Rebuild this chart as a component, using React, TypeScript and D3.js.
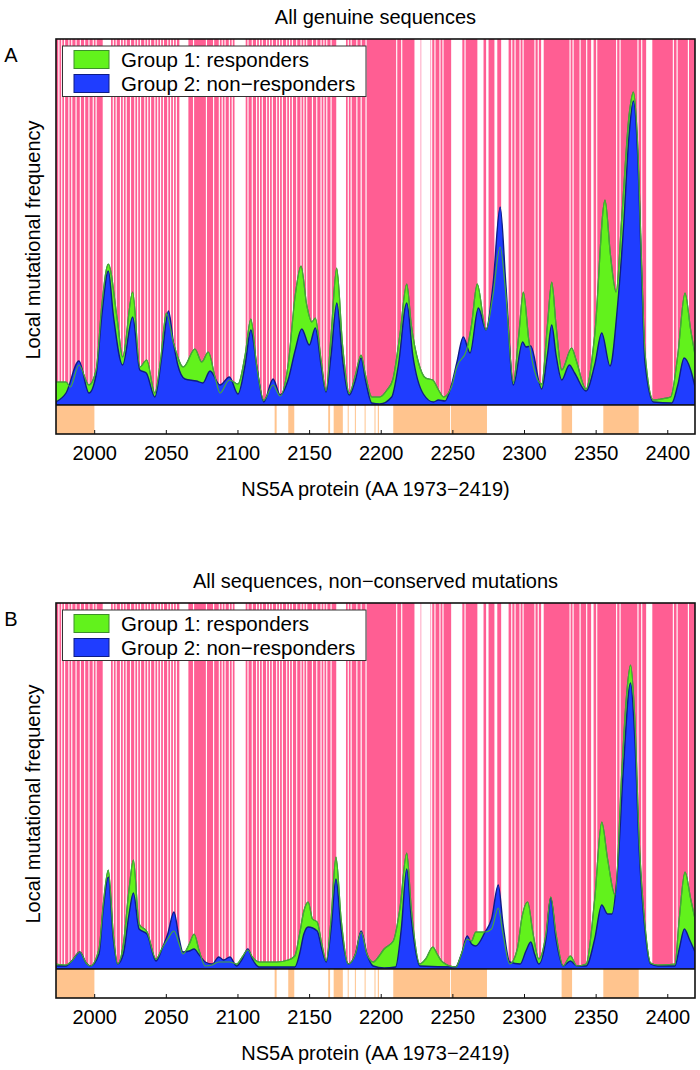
import React from "react";
import * as d3 from "d3";

// ---------- data ----------
const xDomain: [number, number] = [1973, 2419];
const xTicks = [2000, 2050, 2100, 2150, 2200, 2250, 2300, 2350, 2400];
const panelTitles = ["All genuine sequences", "All sequences, non\u2212conserved mutations"];
const panelLetters = ["A", "B"];
const legendLabels = ["Group 1: responders", "Group 2: non\u2212responders"];
const xLabel = "NS5A protein (AA 1973\u22122419)";
const yLabel = "Local mutational frequency";

// conserved positions (white stripes), AA ranges
const whiteStripes: [number, number][] = [
  [1975, 1975], [1977, 1977], [1979, 1979], [1982, 1982], [1984, 1984], [1987, 1987], [1990, 1990],
  [1993, 1993], [1996, 1996], [1999, 1999], [2001, 2001], [2006, 2011], [2013, 2013], [2015, 2015],
  [2018, 2018], [2020, 2020], [2022, 2022], [2025, 2025], [2028, 2028], [2030, 2030], [2032, 2032],
  [2035, 2035], [2037, 2037], [2039, 2039], [2042, 2042], [2044, 2044], [2046, 2046], [2048, 2048],
  [2051, 2051], [2053, 2053], [2055, 2055], [2057, 2057], [2059.5, 2065], [2069, 2069], [2078, 2078],
  [2083, 2083], [2087, 2087], [2089, 2089], [2091, 2091], [2094, 2094], [2096, 2096], [2098, 2105],
  [2107, 2107], [2110, 2110], [2113, 2113], [2115, 2115], [2117, 2117], [2120, 2120], [2122, 2122],
  [2124, 2124], [2127, 2127], [2129, 2129], [2131, 2131], [2134, 2134], [2136, 2136], [2138, 2138],
  [2141, 2141], [2144, 2144], [2146, 2146], [2148, 2148], [2152, 2152], [2155, 2155], [2158, 2158],
  [2160, 2160], [2162, 2162], [2165, 2165], [2169, 2175], [2177, 2177], [2179, 2179], [2183, 2183],
  [2186, 2186], [2189.4, 2189.4], [2210.8, 2210.8], [2214.3, 2214.3], [2223.6, 2227.1], [2228.3, 2234],
  [2235.2, 2235.2], [2237.5, 2237.5], [2241, 2241], [2243.1, 2243.1], [2249.2, 2256.2], [2258.5, 2258.5],
  [2267.5, 2271], [2273.6, 2274.5], [2279.4, 2280.6], [2284.1, 2288.5], [2291.1, 2291.1], [2293.4, 2293.4],
  [2296.9, 2296.9], [2299, 2299], [2307.3, 2307.3], [2309.6, 2309.6], [2312, 2313], [2331.8, 2331.8],
  [2333.9, 2333.9], [2338.8, 2338.8], [2343.4, 2343.4], [2346.9, 2347.8], [2350.4, 2350.4],
  [2364.3, 2364.3], [2366.7, 2366.7], [2379.2, 2379.2], [2381.8, 2381.8], [2385.3, 2388.8],
  [2403.9, 2403.9], [2406.5, 2406.5], [2414.4, 2414.4],
];

// annotated regions (orange strip), AA ranges
const orangeSegments: [number, number][] = [
  [1973, 1999.8], [2125.6, 2127], [2135.1, 2139.3], [2163, 2164.3], [2166.8, 2173.2], [2176.6, 2177.2],
  [2181.6, 2182.2], [2188.4, 2189], [2195.3, 2196], [2197.6, 2198.4], [2208.4, 2248.1], [2248.7, 2273.8],
  [2325.9, 2333.2], [2355, 2379.7],
];

// Panel A, local mutational frequency (x1000)
const aGroup1: [number, number][] = [
  [1973, 23], [1980, 23], [1983, 18], [1989, 40], [1996, 20], [2001, 35], [2005, 100], [2009.5, 141],
  [2015.8, 85], [2019.5, 48], [2026.5, 113], [2031.5, 38], [2036.3, 45], [2042, 12], [2046, 45], [2050, 92],
  [2055, 62], [2061.9, 38], [2070, 56], [2074.7, 43], [2079.3, 53], [2084, 28], [2087.5, 12], [2094, 25],
  [2100, 21], [2105, 50], [2109, 86], [2113, 40], [2118, 5], [2124.5, 20], [2129.5, 9], [2135, 40],
  [2140, 110], [2144, 139], [2148, 100], [2151.5, 83], [2154, 87], [2158, 45], [2161.5, 14], [2165, 70],
  [2168.9, 137], [2173, 60], [2177.7, 12], [2182, 30], [2185.9, 50], [2189, 30], [2193.4, 8], [2199, 8],
  [2204, 15], [2208, 25], [2213, 70], [2217.8, 121], [2221, 80], [2225.9, 43], [2231, 27], [2236, 25],
  [2240, 15], [2243.6, 8], [2249, 18], [2252.7, 38], [2259.6, 55], [2263, 80], [2267, 121], [2273.1, 75],
  [2278, 110], [2283, 158], [2287, 110], [2292.2, 23], [2296, 70], [2299.2, 113], [2303, 65], [2306, 40],
  [2312, 21], [2316, 80], [2319, 123], [2322, 80], [2326, 35], [2332.9, 57], [2336, 45], [2342.9, 16],
  [2349, 70], [2356.2, 205], [2360, 150], [2363.9, 113], [2368, 190], [2373, 290], [2376, 313], [2379, 260],
  [2382, 130], [2384.1, 52], [2390, 5], [2395, 6], [2402, 8], [2407, 50], [2412, 112], [2416, 75], [2419, 50],
];
const aGroup2: [number, number][] = [
  [1973, 3], [1980, 12], [1989, 44], [1996, 12], [2001, 30], [2005, 90], [2009.5, 134], [2013, 90],
  [2019.5, 40], [2026.5, 88], [2031.5, 35], [2036, 32], [2042, 8], [2047, 50], [2051.5, 94], [2055, 62],
  [2058, 40], [2063, 26], [2071, 24], [2075.5, 22], [2080.5, 34], [2087.5, 20], [2094, 28], [2100, 11],
  [2105, 40], [2109, 75], [2113, 40], [2118, 3], [2124.5, 26], [2129.5, 10], [2135, 25], [2140, 55],
  [2144.5, 76], [2149.8, 60], [2154, 77], [2158, 40], [2161.5, 13], [2165, 50], [2169, 102], [2173, 45],
  [2177.7, 10], [2182, 25], [2185.9, 47], [2189, 25], [2193.4, 2], [2199, 1], [2207.3, 8], [2212, 40],
  [2217.8, 102], [2222, 50], [2229.4, 11], [2236.4, 3], [2240, 5], [2244.5, 4], [2249, 20], [2252.7, 42],
  [2257.3, 68], [2262, 52], [2267.8, 97], [2273.1, 75], [2278, 120], [2283, 198], [2287, 120], [2292.2, 20],
  [2298.7, 63], [2301, 58], [2304.3, 59], [2312, 16], [2316, 50], [2319, 80], [2322, 50], [2326, 25],
  [2331.3, 40], [2335, 32], [2342.9, 14], [2349, 40], [2353.9, 72], [2359.7, 39], [2365, 100], [2369, 175],
  [2373, 270], [2376, 304], [2379, 250], [2382, 120], [2384.1, 42], [2390, 3], [2402.8, 2], [2407, 20],
  [2411.4, 47], [2416, 35], [2419, 18],
];

// Panel B, local mutational frequency (x1000)
const bGroup1: [number, number][] = [
  [1973, 5], [1980, 4], [1984, 8], [1989.7, 17], [1994, 6], [1997, 3], [2003, 20], [2006, 65], [2009.5, 99],
  [2013, 35], [2016, 5], [2020, 25], [2024, 80], [2027, 109], [2031, 45], [2036.6, 37], [2042.8, 10],
  [2047.5, 22], [2051, 30], [2055.3, 38], [2059, 25], [2061.6, 15], [2066, 25], [2069.4, 35], [2073, 18],
  [2077.2, 3], [2082, 4], [2086.6, 7], [2094.4, 7], [2099, 5], [2103, 12], [2106.9, 19], [2110, 12],
  [2114.7, 7], [2127, 7], [2135, 9], [2139.7, 13], [2143, 35], [2146, 58], [2149, 67], [2152, 50],
  [2155.3, 47], [2158.5, 25], [2161.6, 8], [2165, 50], [2168.4, 112], [2172, 50], [2177, 5], [2182, 15],
  [2186, 37], [2190, 15], [2194.4, 7], [2198, 12], [2202, 20], [2208.4, 28], [2213, 60], [2217.8, 116],
  [2221, 60], [2227, 5], [2231, 10], [2236, 22], [2239, 15], [2242.8, 7], [2252, 2], [2256, 15], [2260, 30],
  [2263, 28], [2266, 37], [2272.5, 37], [2277, 40], [2281.7, 61], [2285, 35], [2289.7, 5], [2295, 20],
  [2298, 50], [2302.2, 67], [2306, 35], [2310, 10], [2315, 35], [2318.3, 72], [2322, 35], [2327, 3],
  [2332, 13], [2336.6, 3], [2343, 5], [2349, 70], [2353.9, 147], [2358, 110], [2363.2, 74], [2368, 200],
  [2371, 270], [2374, 304], [2377, 250], [2380, 130], [2384, 45], [2388, 6], [2393, 4], [2405, 5],
  [2408, 50], [2412, 97], [2416, 70], [2419, 50],
];
const bGroup2: [number, number][] = [
  [1973, 3], [1980, 3], [1984, 8], [1989.7, 17], [1994, 6], [1997, 3], [2003, 15], [2006, 60], [2009.5, 92],
  [2013, 30], [2016, 5], [2020, 15], [2024, 55], [2027, 76], [2031, 40], [2036.5, 35], [2042.8, 8],
  [2047.5, 22], [2051, 35], [2055.3, 57], [2059, 30], [2061.6, 17], [2066, 18], [2069.4, 20], [2073, 14],
  [2077.2, 7], [2082, 5], [2086.6, 12], [2090, 9], [2094.4, 12], [2099, 3], [2103, 10], [2106.9, 20],
  [2110, 10], [2114.7, 2], [2127, 2], [2139.7, 2], [2143, 15], [2146, 35], [2149, 42], [2155.3, 38],
  [2158.5, 20], [2161.6, 7], [2165, 40], [2168.4, 90], [2172, 40], [2177, 5], [2182, 15], [2186, 38],
  [2190, 15], [2194.4, 3], [2202, 1], [2210, 2], [2214, 40], [2217.8, 100], [2221, 50], [2227, 3], [2252, 2],
  [2256, 15], [2260, 33], [2263, 25], [2266, 23], [2272.5, 37], [2277, 50], [2281.7, 84], [2285, 45],
  [2289.7, 7], [2297, 5], [2301, 18], [2304.4, 27], [2307, 15], [2310, 5], [2315, 30], [2318.3, 71],
  [2322, 30], [2327, 3], [2332, 8], [2336.6, 3], [2343, 3], [2349, 30], [2353.9, 64], [2358, 55], [2361, 55],
  [2365, 100], [2369, 200], [2374, 286], [2377, 230], [2380, 120], [2384, 40], [2388, 5], [2393, 3],
  [2405, 3], [2408, 20], [2411.6, 40], [2415, 30], [2419, 17],
];

// ---------- styles ----------
const FONT = "'Liberation Sans', Arial, Helvetica, sans-serif";
const PINK = "#ff5e93";
const ORANGE = "#ffc48e";
const GREEN = "#62f21c";
const GREEN_EDGE = "#3d8f2a";
const GREEN_LINE = "#45a83c";
const BLUE = "#1f3dff";
const BLUE_EDGE = "#0d1c86";

const LEFT = 56;
const RIGHT = 695;

type Pt = [number, number];

function Panel({ idx, offsetY, g1, g2 }: { idx: number; offsetY: number; g1: Pt[]; g2: Pt[] }) {
  const top = offsetY + 39;
  const mainBottom = offsetY + 405;
  const stripBottom = offsetY + 434;
  const x = d3.scaleLinear().domain(xDomain).range([LEFT, RIGHT]);
  const y = d3.scaleLinear().domain([0, 366]).range([mainBottom, top]);
  const area = d3
    .area<Pt>()
    .x((d) => x(d[0]))
    .y0(mainBottom)
    .y1((d) => y(d[1]))
    .curve(d3.curveMonotoneX);
  const line = d3
    .line<Pt>()
    .x((d) => x(d[0]))
    .y((d) => y(d[1]))
    .curve(d3.curveMonotoneX);
  const clipId = `clip-${idx}`;
  const cx = (LEFT + RIGHT) / 2;
  return (
    <g>
      <defs>
        <clipPath id={clipId}>
          <rect x={LEFT} y={top} width={RIGHT - LEFT} height={mainBottom - top} />
        </clipPath>
      </defs>
      <text x={cx} y={offsetY + 17} textAnchor="middle" dominantBaseline="central" fontSize={20} fontFamily={FONT}>
        {panelTitles[idx]}
      </text>
      <text x={11} y={offsetY + 55} textAnchor="middle" dominantBaseline="central" fontSize={20} fontFamily={FONT}>
        {panelLetters[idx]}
      </text>
      <text
        transform={`translate(33, ${offsetY + 240}) rotate(-90)`}
        textAnchor="middle"
        dominantBaseline="central"
        fontSize={20}
        fontFamily={FONT}
      >
        {yLabel}
      </text>
      {/* background */}
      <rect x={LEFT} y={top} width={RIGHT - LEFT} height={mainBottom - top} fill={PINK} />
      {whiteStripes.map(([s, e], i) => (
        <rect key={i} x={x(s - 0.4)} y={top} width={x(e + 0.4) - x(s - 0.4)} height={mainBottom - top} fill="#fff" />
      ))}
      <g clipPath={`url(#${clipId})`}>
        <path d={area(g1) || ""} fill={GREEN} stroke={GREEN_EDGE} strokeWidth={1.2} />
        <path d={area(g2) || ""} fill={BLUE} stroke={BLUE_EDGE} strokeWidth={1.4} />
        <path d={line(g1) || ""} fill="none" stroke={GREEN_LINE} strokeWidth={1.2} />
      </g>
      {/* strip */}
      <rect x={LEFT} y={mainBottom} width={RIGHT - LEFT} height={stripBottom - mainBottom} fill="#fff" />
      {orangeSegments.map(([s, e], i) => (
        <rect key={i} x={x(s)} y={mainBottom} width={Math.max(1, x(e) - x(s))} height={stripBottom - mainBottom} fill={ORANGE} />
      ))}
      {/* frame */}
      <rect x={LEFT} y={top} width={RIGHT - LEFT} height={stripBottom - top} fill="none" stroke="#111" strokeWidth={1.6} />
      <line x1={LEFT} x2={RIGHT} y1={mainBottom} y2={mainBottom} stroke="#111" strokeWidth={1.6} />
      {xTicks.map((t) => (
        <g key={t}>
          <line x1={x(t)} x2={x(t)} y1={stripBottom} y2={stripBottom - 4} stroke="#111" strokeWidth={1} />
          <text x={x(t)} y={stripBottom + 19} textAnchor="middle" dominantBaseline="central" fontSize={20} fontFamily={FONT}>
            {t}
          </text>
        </g>
      ))}
      <text x={cx} y={offsetY + 489} textAnchor="middle" dominantBaseline="central" fontSize={20} fontFamily={FONT}>
        {xLabel}
      </text>
      {/* legend */}
      <rect x={62.5} y={offsetY + 46} width={303.5} height={50.5} fill="#fff" stroke="#333" strokeWidth={1} />
      <rect x={74} y={offsetY + 50.5} width={35} height={18} fill={GREEN} stroke={GREEN_EDGE} strokeWidth={1} />
      <rect x={74} y={offsetY + 74.5} width={35} height={18} fill={BLUE} stroke={BLUE_EDGE} strokeWidth={1} />
      <text x={121} y={offsetY + 59.5} dominantBaseline="central" fontSize={20.5} fontFamily={FONT}>
        {legendLabels[0]}
      </text>
      <text x={121} y={offsetY + 83.5} dominantBaseline="central" fontSize={20.5} fontFamily={FONT}>
        {legendLabels[1]}
      </text>
    </g>
  );
}

export default function App() {
  return (
    <svg width={700} height={1070} style={{ position: "absolute", left: 0, top: 0, display: "block" }}>
      <rect x={0} y={0} width={700} height={1070} fill="#fff" />
      <Panel idx={0} offsetY={0} g1={aGroup1} g2={aGroup2} />
      <Panel idx={1} offsetY={564} g1={bGroup1} g2={bGroup2} />
    </svg>
  );
}
